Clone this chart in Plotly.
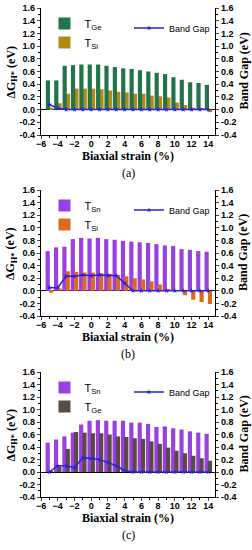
import plotly.graph_objects as go
from plotly.subplots import make_subplots

strain = list(range(-5, 15))

# (a)
a_TGe = [0.46, 0.46, 0.69, 0.70, 0.71, 0.71, 0.71, 0.69, 0.67, 0.65, 0.64, 0.62, 0.60, 0.58, 0.56, 0.51, 0.47, 0.43, 0.42, 0.39]
a_TSi = [0.03, 0.10, 0.25, 0.33, 0.33, 0.33, 0.32, 0.30, 0.28, 0.27, 0.25, 0.25, 0.22, 0.21, 0.19, 0.11, 0.07, 0.03, 0.01, -0.04]
a_gap = [0.08, 0.02, 0, 0, 0, 0, 0, 0, 0, 0, 0, 0, 0, 0, 0, 0, 0, 0, 0, 0]
# (b)
b_TSn = [0.63, 0.69, 0.70, 0.82, 0.84, 0.83, 0.84, 0.82, 0.81, 0.79, 0.78, 0.77, 0.76, 0.74, 0.72, 0.71, 0.66, 0.65, 0.63, 0.62]
b_TSi = [-0.03, 0.04, 0.31, 0.30, 0.29, 0.29, 0.28, 0.27, 0.25, 0.23, 0.20, 0.18, 0.15, 0.10, 0.03, 0.01, -0.07, -0.14, -0.18, -0.21]
b_gap = [0.05, 0.05, 0.23, 0.23, 0.25, 0.24, 0.25, 0.24, 0.24, 0.12, 0, 0, 0, 0, 0, 0, 0, 0, 0, 0]
# (c)
c_TSn = [0.47, 0.52, 0.57, 0.63, 0.76, 0.82, 0.83, 0.82, 0.82, 0.82, 0.79, 0.79, 0.77, 0.72, 0.73, 0.70, 0.68, 0.65, 0.63, 0.61]
c_TGe = [0.01, 0.09, 0.37, 0.64, 0.63, 0.62, 0.62, 0.60, 0.57, 0.56, 0.54, 0.53, 0.49, 0.45, 0.39, 0.34, 0.30, 0.26, 0.22, 0.18]
c_gap = [0.0, 0.10, 0.10, 0.07, 0.23, 0.22, 0.20, 0.15, 0.10, 0.02, 0, 0, 0, 0, 0, 0, 0, 0, 0, 0]

yticks = [-0.4, -0.2, 0.0, 0.2, 0.4, 0.6, 0.8, 1.0, 1.2, 1.4, 1.6]
ytext = ["%.1f" % v for v in yticks]
xticks = [-6, -4, -2, 0, 2, 4, 6, 8, 10, 12, 14]

GREEN = "#23744a"
GOLD = "#b08a12"
PURPLE = "#9a3fe2"
ORANGE = "#dc6a1c"
BROWN = "#5a4a44"
BLUE = "#2a22d8"

W, H = 252, 550
L, R = 41, 37
PW = W - L - R

def px_x(p):
    return (p - L) / PW

def px_y(p):
    return 1 - p / H

fig = make_subplots(rows=3, cols=1, specs=[[{"secondary_y": True}]] * 3)

panels = [
    ("a", [("T<sub>Ge</sub>", a_TGe, GREEN, -0.42), ("T<sub>Si</sub>", a_TSi, GOLD, -0.02)], a_gap, (8, 135), True, 156, 173),
    ("b", [("T<sub>Sn</sub>", b_TSn, PURPLE, -0.45), ("T<sub>Si</sub>", b_TSi, ORANGE, -0.05)], b_gap, (190, 316), False, 337, 354),
    ("c", [("T<sub>Sn</sub>", c_TSn, PURPLE, -0.45), ("T<sub>Ge</sub>", c_TGe, BROWN, -0.05)], c_gap, (372, 497), False, 518, 535),
]

TICKFONT = dict(family="Arial", size=9, color="black", weight="bold")
TITLEFONT = dict(family="Liberation Serif", size=12, color="black", weight="bold")

annotations = []
for i, (lab, bars, gap, (ytop, ybot), green_front, xt_y, cap_y) in enumerate(panels):
    row = i + 1
    lg = "legend" if i == 0 else "legend%d" % (2 * i + 1)
    lg2 = "legend%d" % (2 * i + 2)
    order = bars[::-1] if green_front else bars
    for name, vals, col, off in order:
        fig.add_trace(go.Bar(x=strain, y=vals, name=name, marker_color=col,
                             marker_line_width=0, width=0.5, offset=off,
                             legend=lg), row=row, col=1)
    fig.add_trace(go.Scatter(x=strain, y=gap, name="Band Gap", mode="lines+markers",
                             line=dict(color=BLUE, width=1.5),
                             marker=dict(symbol="star", size=4, color=BLUE),
                             legend=lg2), row=row, col=1, secondary_y=True)
    d0 = px_y(ybot)
    d1 = px_y(ytop)
    xa = "xaxis" if i == 0 else "xaxis%d" % (i + 1)
    ya = "yaxis" if i == 0 else "yaxis%d" % (2 * i + 1)
    yb = "yaxis%d" % (2 * i + 2)
    fig.layout[xa].update(domain=[0, 1], range=[-6, 14.8], tickvals=xticks, automargin=False,
                          ticks="outside", ticklen=3, showline=True, linecolor="black",
                          linewidth=1.2, mirror=False, showgrid=False, zeroline=False,
                          tickfont=TICKFONT, ticklabelstandoff=-3,
                          minor=dict(ticks="outside", ticklen=2, dtick=1, tickcolor="black"))
    common = dict(domain=[d0, d1], range=[-0.4, 1.6], tickvals=yticks, ticktext=ytext,
                  ticks="outside", ticklen=3, showline=True, linecolor="black", linewidth=1.2,
                  showgrid=False, tickfont=TICKFONT, automargin=False,
                  minor=dict(ticks="outside", ticklen=2, dtick=0.1, tickcolor="black"))
    fig.layout[ya].update(**common, zeroline=True, zerolinecolor="black", zerolinewidth=1.2)
    fig.layout[yb].update(**common, zeroline=False, side="right")
    fig.layout[lg] = dict(x=0.02, y=d1 - 0.002, xanchor="left", yanchor="top",
                          bgcolor="rgba(0,0,0,0)", tracegroupgap=0, itemwidth=30,
                          traceorder="reversed" if green_front else "normal",
                          font=dict(family="Arial", size=11, color="black"))
    fig.layout[lg2] = dict(x=1.0, y=d1 - 0.01, xanchor="right", yanchor="top",
                           bgcolor="rgba(0,0,0,0)", itemwidth=30,
                           font=dict(family="Arial", size=9, color="black"))
    annotations.append(dict(text="ΔG<sub>H*</sub> (eV)", textangle=-90, x=px_x(11), y=(d0 + d1) / 2,
                            xref="paper", yref="paper", showarrow=False, font=TITLEFONT,
                            xanchor="center", yanchor="middle"))
    annotations.append(dict(text="Band Gap (eV)", textangle=-90, x=px_x(243), y=(d0 + d1) / 2,
                            xref="paper", yref="paper", showarrow=False, font=TITLEFONT,
                            xanchor="center", yanchor="middle"))
    annotations.append(dict(text="Biaxial strain (%)", x=px_x(128), y=px_y(xt_y), xref="paper", yref="paper",
                            showarrow=False, font=TITLEFONT, xanchor="center", yanchor="middle"))
    annotations.append(dict(text="(%s)" % lab, x=px_x(128), y=px_y(cap_y), xref="paper", yref="paper",
                            showarrow=False, font=dict(family="Liberation Serif", size=12, color="black"),
                            xanchor="center", yanchor="middle"))

fig.update_layout(width=W, height=H, margin=dict(l=L, r=R, t=0, b=0),
                  plot_bgcolor="white", paper_bgcolor="white", barmode="overlay",
                  annotations=annotations, showlegend=True)
fig.write_html("out.html", config={"displayModeBar": False},
               post_script="document.body.style.margin='0';document.body.style.overflow='hidden';")
